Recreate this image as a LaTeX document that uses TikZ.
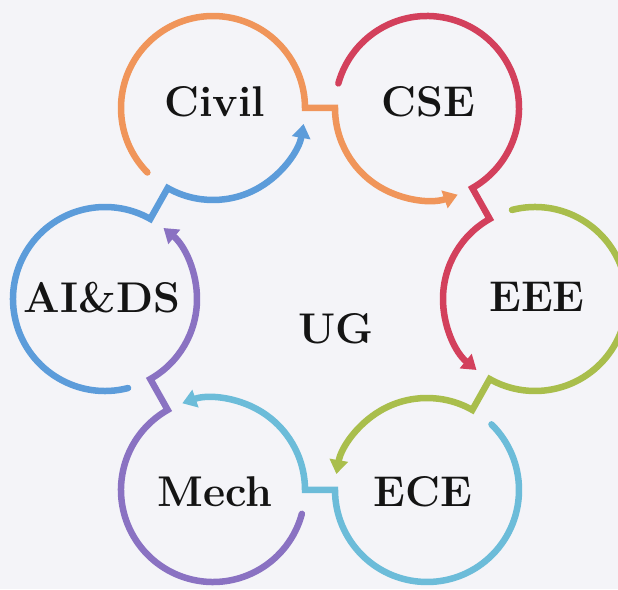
\documentclass[tikz,border=0pt]{standalone}
\usetikzlibrary{arrows.meta,calc}
\definecolor{cOrange}{HTML}{F0955A}
\definecolor{cRed}{HTML}{D3405C}
\definecolor{cGreen}{HTML}{A9BE4C}
\definecolor{cCyan}{HTML}{6CBCD9}
\definecolor{cPurple}{HTML}{8A72C2}
\definecolor{cBlue}{HTML}{5C9CDA}
\definecolor{bgcol}{HTML}{F4F4F8}
\definecolor{ink}{HTML}{141414}
\begin{document}
\begin{tikzpicture}[x=1pt,y=1pt,
  ring/.style={line width=6.5pt, line cap=round, -{Triangle[width=18pt,length=14pt]}},
  lbl/.style={font=\fontsize{43}{50}\selectfont\bfseries, text=ink, anchor=base, inner sep=0pt}]
\fill[bgcol] (0,0) rectangle (618,589);
\useasboundingbox (0,0) rectangle (618,589);
\def\R{92}
\coordinate (Civil) at (213,481);
\coordinate (CSE) at (427,481);
\coordinate (EEE) at (535,290);
\coordinate (ECE) at (427,99);
\coordinate (Mech) at (213,99);
\coordinate (AIDS) at (105,290);
% orange: Civil -> CSE
\draw[ring, cOrange] ($(Civil)+(224.5:\R)$) arc[start angle=224.5, end angle=0, radius=\R]
  -- ($(CSE)+(180:\R)$) arc[start angle=180, end angle=289.5, radius=\R];
% red: CSE -> EEE
\draw[ring, cRed] ($(CSE)+(164.5:\R)$) arc[start angle=164.5, end angle=-60.5, radius=\R]
  -- ($(EEE)+(119.5:\R)$) arc[start angle=119.5, end angle=230.5, radius=\R];
% green: EEE -> ECE
\draw[ring, cGreen] ($(EEE)+(104.5:\R)$) arc[start angle=104.5, end angle=-119.5, radius=\R]
  -- ($(ECE)+(60.5:\R)$) arc[start angle=60.5, end angle=170, radius=\R];
% cyan: ECE -> Mech
\draw[ring, cCyan] ($(ECE)+(45.5:\R)$) arc[start angle=45.5, end angle=-180, radius=\R]
  -- ($(Mech)+(0:\R)$) arc[start angle=0, end angle=109.5, radius=\R];
% purple: Mech -> AIDS
\draw[ring, cPurple] ($(Mech)+(-15:\R)$) arc[start angle=-15, end angle=-240.5, radius=\R]
  -- ($(AIDS)+(-60.5:\R)$) arc[start angle=-60.5, end angle=50.5, radius=\R];
% blue: AIDS -> Civil
\draw[ring, cBlue] ($(AIDS)+(-75.5:\R)$) arc[start angle=-75.5, end angle=-299.5, radius=\R]
  -- ($(Civil)+(240.5:\R)$) arc[start angle=240.5, end angle=350, radius=\R];
% labels
\node[lbl] (tCivil) at (215,472) {Civil};
\node[lbl] (tCSE) at (428,472) {CSE};
\node[lbl] (tEEE) at (537,277) {EEE};
\node[lbl] (tECE) at (423,82) {ECE};
\node[lbl] (tMech) at (215,82) {Mech};
\node[lbl] (tAIDS) at (102,276) {AI\&DS};
\node[lbl] (tUG) at (336,245) {UG};
\end{tikzpicture}
\end{document}
